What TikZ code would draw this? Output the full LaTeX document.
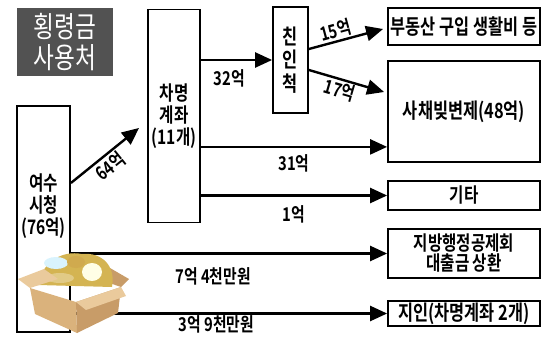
\documentclass[tikz,border=0pt]{standalone}
\usepackage{fontspec}
\setmainfont{Noto Sans CJK KR}[FakeStretch=0.78, BoldFont=* Bold]
\usetikzlibrary{arrows.meta}

\definecolor{titlegray}{RGB}{82,82,82}
\definecolor{cardboard}{RGB}{218,178,124}
\definecolor{cardshade}{RGB}{200,156,104}
\definecolor{cardlight}{RGB}{234,202,156}
\definecolor{coin}{RGB}{212,180,82}

\begin{document}
\begin{tikzpicture}[x=1pt, y=-1pt,
    box/.style={draw, line width=1.8pt, inner sep=0pt, align=center,
      font=\bfseries\fontsize{20}{22}\selectfont},
    flow/.style={line width=2.4pt, -{Triangle[length=17pt, width=15pt]}},
    lbl/.style={inner sep=1pt, font=\bfseries\fontsize{19}{20}\selectfont}]
  \useasboundingbox (0,0) rectangle (545,347);

  \node[fill=titlegray, text=white, minimum width=96pt, minimum height=68pt, align=center,
    font=\fontsize{29}{31}\selectfont] (title) at (65,42) {횡령금\\사용처};

  % boxes
  \node[box, minimum width=53pt, minimum height=226pt] (yeosu) at (43.5,219) {};
  \node[box, draw=none] (yeosutxt) at (43.5,206) {여수\\시청\\(76억)};
  \node[box, minimum width=52pt, minimum height=213pt] (chamyeong) at (174,116) {차명\\계좌\\(11개)};
  \node[box, minimum width=35pt, minimum height=106pt, font=\bfseries\fontsize{21}{23.5}\selectfont] (chinin) at (290.5,60) {친\\인\\척};
  \node[box, minimum width=152pt, minimum height=37pt, font=\bfseries\fontsize{21}{22}\selectfont] (busan) at (464,26.5) {부동산 구입 생활비 등};
  \node[box, minimum width=152pt, minimum height=101pt, font=\bfseries\fontsize{21}{22}\selectfont] (saechae) at (464,111.5) {사채빚변제(48억)};
  \node[box, minimum width=152pt, minimum height=29pt] (gita) at (464,195.5) {기타};
  \node[box, minimum width=152pt, minimum height=49pt, font=\bfseries\fontsize{20}{20}\selectfont] (jibang) at (464,253.5) {지방행정공제회\\대출금 상환};
  \node[box, minimum width=152pt, minimum height=25pt, font=\bfseries\fontsize{21}{22}\selectfont] (jiin) at (464,313.5) {지인(차명계좌 2개)};

  % arrows
  \coordinate (a64) at (139,128);
  \coordinate (a31) at ([yshift=16pt]saechae.south west);
  \draw[flow] ([yshift=36pt]yeosu.east) -- node[lbl, sloped, below=1pt, pos=.47] (l64) {64억} (a64);
  \draw[flow] (chamyeong.east |- chinin.west) -- node[lbl, below=7pt, pos=.4] (l32) {32억} (chinin.west);
  \draw[flow] ([yshift=11pt]chinin.east) -- node[lbl, sloped, above=0pt, pos=.4] (l15) {15억} ([xshift=-4pt,yshift=-2.5pt]busan.west);
  \draw[flow] ([yshift=-10pt]chinin.east) -- node[lbl, sloped, below=0pt, pos=.45] (l17) {17억} ([xshift=-3pt,yshift=19.5pt]saechae.west);
  \draw[flow] (chamyeong.east |- a31) -- node[lbl, below=5pt] (l31) {31억} (a31);
  \foreach \src/\dst/\txt/\ps/\gap/\nm in {chamyeong/gita/1억/.5/8pt/l1,
      yeosu/jibang/7억 4천만원/.45/12pt/l7, yeosu/jiin/3억 9천만원/.46/0pt/l3}
    \draw[flow] (\src.east |- \dst.west) -- node[lbl, below=\gap, pos=\ps] (\nm) {\txt} (\dst.west);

  % money box
  \fill[cardshade] (121,287) -- (98,279) -- (110,268) -- (129,279) -- cycle;
  \fill[coin] (38,285) .. controls (42,262) and (62,250) .. (82,254)
    .. controls (102,252) and (116,266) .. (112,287) -- cycle;
  \fill[white!85!cyan] (56,263) ellipse (12 and 6);
  \fill[white!90!yellow] (92,272) ellipse (10 and 9);
  \fill[coin!80!brown] (76,262) ellipse (9 and 6);
  \fill[coin!70!white] (60,278) ellipse (14 and 5);
  \fill[cardlight] (30,288) -- (58,279) -- (44,269) -- (18,279) -- cycle;
  \fill[cardboard] (30,288) -- (76,302) -- (77,333) -- (35,314) -- cycle;
  \fill[cardshade] (76,302) -- (121,287) -- (118,313) -- (77,333) -- cycle;
  \fill[cardlight] (76,302) -- (121,287) -- (126,296) -- (86,310) -- cycle;
\end{tikzpicture}
\end{document}
